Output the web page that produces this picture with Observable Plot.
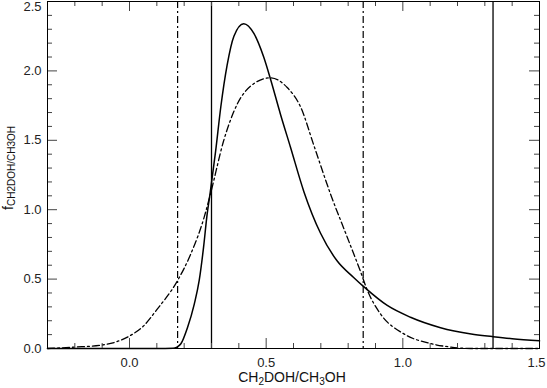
<!DOCTYPE html>
<html><head><meta charset="utf-8">
<script src="https://cdn.jsdelivr.net/npm/d3@7"></script>
<script src="https://cdn.jsdelivr.net/npm/@observablehq/plot@0.6"></script>
<style>body{margin:0;background:#fff} #chart svg{display:block}</style>
</head><body><div id="chart"></div>
<script>
// Solid curve
const solidX = [-0.3, 0.10, 0.16, 0.172, 0.188, 0.212, 0.237, 0.255, 0.271, 0.283, 0.295, 0.315, 0.334, 0.357, 0.382, 0.418, 0.455, 0.491, 0.516, 0.552, 0.589, 0.638, 0.699, 0.760, 0.821, 0.860, 0.943, 1.028, 1.138, 1.25, 1.327, 1.40, 1.5];
const solidY = [0, 0, 0.002, 0.008, 0.034, 0.15, 0.32, 0.49, 0.73, 0.95, 1.12, 1.42, 1.74, 2.04, 2.25, 2.34, 2.27, 2.10, 1.94, 1.69, 1.45, 1.13, 0.83, 0.63, 0.51, 0.44, 0.31, 0.225, 0.15, 0.105, 0.086, 0.07, 0.055];
// Dash-dot curve
const dashX = [-0.3, -0.2, -0.1, 0.0, 0.05, 0.10, 0.176, 0.224, 0.273, 0.297, 0.345, 0.394, 0.443, 0.516, 0.577, 0.626, 0.675, 0.736, 0.797, 0.846, 0.870, 0.918, 1.004, 1.103, 1.176, 1.25, 1.5];
const dashY = [0, 0.01, 0.025, 0.09, 0.16, 0.28, 0.49, 0.68, 0.945, 1.12, 1.50, 1.76, 1.89, 1.95, 1.88, 1.74, 1.46, 1.11, 0.80, 0.55, 0.42, 0.25, 0.105, 0.035, 0.01, 0.0, 0.0];
// Vertical reference lines
const solidLines = [0.30, 1.33];
const dashLines = [0.176, 0.855];
// Ticks
const xMajor = [0, 0.5, 1.0, 1.5];
const xMinor = [-0.2, -0.1, 0.1, 0.2, 0.3, 0.4, 0.6, 0.7, 0.8, 0.9, 1.1, 1.2, 1.3, 1.4];
const yMajor = [0, 0.5, 1.0, 1.5, 2.0, 2.5];
const yMinor = [0.1, 0.2, 0.3, 0.4, 0.6, 0.7, 0.8, 0.9, 1.1, 1.2, 1.3, 1.4, 1.6, 1.7, 1.8, 1.9, 2.1, 2.2, 2.3, 2.4];

const W = 547, H = 388, mL = 47, mR = 8, mT = 1, mB = 40;
const iw = W - mL - mR, ih = H - mT - mB;
const solid = solidX.map((x, i) => ({x, y: solidY[i]}));
const dash = dashX.map((x, i) => ({x, y: dashY[i]}));
const fmt = d3.format(".1f");
const dd = "7,3,2,3";

const plot = Plot.plot({
  width: W, height: H,
  marginLeft: mL, marginRight: mR, marginTop: mT, marginBottom: mB,
  style: {fontFamily: "'Liberation Sans', Arial, sans-serif", fontSize: "13px", background: "#fff", color: "#000"},
  x: {domain: [-0.3, 1.5]},
  y: {domain: [0, 2.5]},
  marks: [
    Plot.ruleX(solidLines, {x: d => d, stroke: "#000", strokeWidth: 1.3}),
    Plot.ruleX(dashLines, {x: d => d, stroke: "#000", strokeWidth: 1.2, strokeDasharray: dd}),
    Plot.line(solid, {x: "x", y: "y", curve: "monotone-x", stroke: "#000", strokeWidth: 1.5}),
    Plot.line(dash, {x: "x", y: "y", curve: "monotone-x", stroke: "#000", strokeWidth: 1.3, strokeDasharray: dd}),
    // inward ticks, bottom & top
    Plot.tickX(xMajor, {x: d => d, insetTop: ih - 10, stroke: "#444"}),
    Plot.tickX(xMinor, {x: d => d, insetTop: ih - 5, stroke: "#444"}),
    Plot.tickX(xMajor, {x: d => d, insetBottom: ih - 10, stroke: "#444"}),
    Plot.tickX(xMinor, {x: d => d, insetBottom: ih - 5, stroke: "#444"}),
    // inward ticks, left & right
    Plot.tickY(yMajor, {y: d => d, insetRight: iw - 10, stroke: "#444"}),
    Plot.tickY(yMinor, {y: d => d, insetRight: iw - 5, stroke: "#444"}),
    Plot.tickY(yMajor, {y: d => d, insetLeft: iw - 10, stroke: "#444"}),
    Plot.tickY(yMinor, {y: d => d, insetLeft: iw - 5, stroke: "#444"}),
    Plot.frame({stroke: "#000"}),
    Plot.axisX(xMajor.filter(d => d < 1.5), {tickSize: 0, tickPadding: 9, tickFormat: fmt, label: null, fill: "#222"}),
    Plot.axisX(xMajor.filter(d => d >= 1.5), {tickSize: 0, tickPadding: 9, tickFormat: fmt, label: null, fill: "#222", dx: -3}),
    Plot.axisY(yMajor.filter(d => d < 2.5), {tickSize: 0, tickPadding: 6, tickFormat: fmt, label: null, fill: "#222"}),
    Plot.axisY(yMajor.filter(d => d >= 2.5), {tickSize: 0, tickPadding: 6, tickFormat: fmt, label: null, dy: 5, fill: "#222"})
  ]
});

const svg = d3.select(plot);
// x title with subscripts
const xt = svg.append("text")
  .attr("x", 292).attr("y", 382)
  .attr("text-anchor", "middle").attr("font-size", 14).attr("fill", "#111");
xt.append("tspan").text("CH");
xt.append("tspan").attr("font-size", 10).attr("dy", 3).text("2");
xt.append("tspan").attr("dy", -3).text("DOH/CH");
xt.append("tspan").attr("font-size", 10).attr("dy", 3).text("3");
xt.append("tspan").attr("dy", -3).text("OH");
// y title
const yt = svg.append("text")
  .attr("transform", "translate(13,168) rotate(-90)")
  .attr("text-anchor", "middle").attr("fill", "#111");
yt.append("tspan").attr("font-size", 14).text("f");
yt.append("tspan").attr("font-size", 10).attr("dy", 2).text("CH2DOH/CH3OH");

document.getElementById("chart").appendChild(plot);
</script>
</body></html>
